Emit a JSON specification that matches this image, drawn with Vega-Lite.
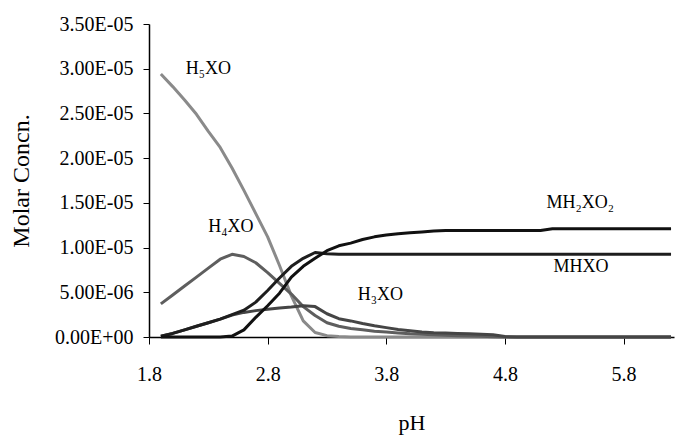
{
  "$schema": "https://vega.github.io/schema/vega-lite/v6.json",
  "autosize": {"type": "none"},
  "width": 525,
  "height": 313,
  "padding": {"left": 149, "top": 24, "right": 3, "bottom": 98},
  "background": "white",
  "config": {
    "view": {"stroke": null},
    "font": "Liberation Serif",
    "axis": {"grid": false, "domainColor": "#000", "tickColor": "#000", "labelColor": "#000", "titleColor": "#000", "titleFontWeight": "normal", "labelFont": "Liberation Serif", "titleFont": "Liberation Serif", "domainWidth": 1.5, "tickWidth": 1}
  },
  "datasets": {
    "curves": [
      {"pH": 1.9, "H5XO": 2.94e-5, "H4XO": 3.7e-6, "H3XO": 1e-7, "MHXO": 1e-7, "MH2XO2": 0},
      {"pH": 2.0, "H5XO": 2.80e-5, "H4XO": 4.7e-6, "H3XO": 4e-7, "MHXO": 4e-7, "MH2XO2": 0},
      {"pH": 2.1, "H5XO": 2.65e-5, "H4XO": 5.7e-6, "H3XO": 8e-7, "MHXO": 8e-7, "MH2XO2": 0},
      {"pH": 2.2, "H5XO": 2.49e-5, "H4XO": 6.7e-6, "H3XO": 1.2e-6, "MHXO": 1.2e-6, "MH2XO2": 0},
      {"pH": 2.3, "H5XO": 2.30e-5, "H4XO": 7.7e-6, "H3XO": 1.6e-6, "MHXO": 1.6e-6, "MH2XO2": 0},
      {"pH": 2.4, "H5XO": 2.12e-5, "H4XO": 8.7e-6, "H3XO": 2.0e-6, "MHXO": 2.0e-6, "MH2XO2": 0},
      {"pH": 2.5, "H5XO": 1.89e-5, "H4XO": 9.25e-6, "H3XO": 2.45e-6, "MHXO": 2.5e-6, "MH2XO2": 1e-7},
      {"pH": 2.6, "H5XO": 1.64e-5, "H4XO": 9.0e-6, "H3XO": 2.75e-6, "MHXO": 3.0e-6, "MH2XO2": 8e-7},
      {"pH": 2.7, "H5XO": 1.38e-5, "H4XO": 8.3e-6, "H3XO": 2.95e-6, "MHXO": 3.9e-6, "MH2XO2": 2.2e-6},
      {"pH": 2.8, "H5XO": 1.12e-5, "H4XO": 7.2e-6, "H3XO": 3.1e-6, "MHXO": 5.2e-6, "MH2XO2": 3.5e-6},
      {"pH": 2.9, "H5XO": 8.0e-6, "H4XO": 6.0e-6, "H3XO": 3.25e-6, "MHXO": 6.6e-6, "MH2XO2": 4.9e-6},
      {"pH": 3.0, "H5XO": 4.6e-6, "H4XO": 4.8e-6, "H3XO": 3.35e-6, "MHXO": 7.9e-6, "MH2XO2": 6.7e-6},
      {"pH": 3.1, "H5XO": 1.8e-6, "H4XO": 3.4e-6, "H3XO": 3.5e-6, "MHXO": 8.8e-6, "MH2XO2": 7.9e-6},
      {"pH": 3.2, "H5XO": 5e-7, "H4XO": 2.4e-6, "H3XO": 3.4e-6, "MHXO": 9.45e-6, "MH2XO2": 8.8e-6},
      {"pH": 3.3, "H5XO": 1.5e-7, "H4XO": 1.6e-6, "H3XO": 2.6e-6, "MHXO": 9.3e-6, "MH2XO2": 9.65e-6},
      {"pH": 3.4, "H5XO": 5e-8, "H4XO": 1.2e-6, "H3XO": 2.05e-6, "MHXO": 9.25e-6, "MH2XO2": 1.02e-5},
      {"pH": 3.5, "H5XO": 0, "H4XO": 9.5e-7, "H3XO": 1.8e-6, "MHXO": 9.25e-6, "MH2XO2": 1.05e-5},
      {"pH": 3.6, "H5XO": 0, "H4XO": 8e-7, "H3XO": 1.5e-6, "MHXO": 9.25e-6, "MH2XO2": 1.09e-5},
      {"pH": 3.7, "H5XO": 0, "H4XO": 6.5e-7, "H3XO": 1.25e-6, "MHXO": 9.25e-6, "MH2XO2": 1.12e-5},
      {"pH": 3.8, "H5XO": 0, "H4XO": 5.5e-7, "H3XO": 1.05e-6, "MHXO": 9.25e-6, "MH2XO2": 1.14e-5},
      {"pH": 3.9, "H5XO": 0, "H4XO": 4.5e-7, "H3XO": 8.5e-7, "MHXO": 9.25e-6, "MH2XO2": 1.155e-5},
      {"pH": 4.0, "H5XO": 0, "H4XO": 3.5e-7, "H3XO": 7e-7, "MHXO": 9.25e-6, "MH2XO2": 1.165e-5},
      {"pH": 4.1, "H5XO": 0, "H4XO": 3e-7, "H3XO": 5.5e-7, "MHXO": 9.25e-6, "MH2XO2": 1.175e-5},
      {"pH": 4.2, "H5XO": 0, "H4XO": 2.5e-7, "H3XO": 4.8e-7, "MHXO": 9.25e-6, "MH2XO2": 1.185e-5},
      {"pH": 4.3, "H5XO": 0, "H4XO": 2e-7, "H3XO": 4.4e-7, "MHXO": 9.25e-6, "MH2XO2": 1.19e-5},
      {"pH": 4.4, "H5XO": 0, "H4XO": 1.5e-7, "H3XO": 4e-7, "MHXO": 9.25e-6, "MH2XO2": 1.19e-5},
      {"pH": 4.5, "H5XO": 0, "H4XO": 1e-7, "H3XO": 3.7e-7, "MHXO": 9.25e-6, "MH2XO2": 1.19e-5},
      {"pH": 4.6, "H5XO": 0, "H4XO": 7e-8, "H3XO": 3.2e-7, "MHXO": 9.25e-6, "MH2XO2": 1.19e-5},
      {"pH": 4.7, "H5XO": 0, "H4XO": 4e-8, "H3XO": 2.5e-7, "MHXO": 9.25e-6, "MH2XO2": 1.19e-5},
      {"pH": 4.8, "H5XO": 0, "H4XO": 0, "H3XO": 5e-8, "MHXO": 9.25e-6, "MH2XO2": 1.19e-5},
      {"pH": 4.9, "H5XO": 0, "H4XO": 0, "H3XO": 0, "MHXO": 9.25e-6, "MH2XO2": 1.19e-5},
      {"pH": 5.0, "H5XO": 0, "H4XO": 0, "H3XO": 0, "MHXO": 9.25e-6, "MH2XO2": 1.19e-5},
      {"pH": 5.1, "H5XO": 0, "H4XO": 0, "H3XO": 0, "MHXO": 9.25e-6, "MH2XO2": 1.19e-5},
      {"pH": 5.2, "H5XO": 0, "H4XO": 0, "H3XO": 0, "MHXO": 9.25e-6, "MH2XO2": 1.21e-5},
      {"pH": 5.3, "H5XO": 0, "H4XO": 0, "H3XO": 0, "MHXO": 9.25e-6, "MH2XO2": 1.21e-5},
      {"pH": 5.4, "H5XO": 0, "H4XO": 0, "H3XO": 0, "MHXO": 9.25e-6, "MH2XO2": 1.21e-5},
      {"pH": 5.5, "H5XO": 0, "H4XO": 0, "H3XO": 0, "MHXO": 9.25e-6, "MH2XO2": 1.21e-5},
      {"pH": 5.6, "H5XO": 0, "H4XO": 0, "H3XO": 0, "MHXO": 9.25e-6, "MH2XO2": 1.21e-5},
      {"pH": 5.7, "H5XO": 0, "H4XO": 0, "H3XO": 0, "MHXO": 9.25e-6, "MH2XO2": 1.21e-5},
      {"pH": 5.8, "H5XO": 0, "H4XO": 0, "H3XO": 0, "MHXO": 9.25e-6, "MH2XO2": 1.21e-5},
      {"pH": 5.9, "H5XO": 0, "H4XO": 0, "H3XO": 0, "MHXO": 9.25e-6, "MH2XO2": 1.21e-5},
      {"pH": 6.0, "H5XO": 0, "H4XO": 0, "H3XO": 0, "MHXO": 9.25e-6, "MH2XO2": 1.21e-5},
      {"pH": 6.1, "H5XO": 0, "H4XO": 0, "H3XO": 0, "MHXO": 9.25e-6, "MH2XO2": 1.21e-5},
      {"pH": 6.2, "H5XO": 0, "H4XO": 0, "H3XO": 0, "MHXO": 9.25e-6, "MH2XO2": 1.21e-5}
    ],
    "labels": [
      {"label": "H₅XO", "pH": 2.11, "value": 3.0e-5},
      {"label": "H₄XO", "pH": 2.30, "value": 1.226e-5},
      {"label": "H₃XO", "pH": 3.56, "value": 4.73e-6},
      {"label": "MH₂XO₂", "pH": 5.15, "value": 1.5e-5},
      {"label": "MHXO", "pH": 5.21, "value": 7.83e-6}
    ]
  },
  "layer": [
    {
      "data": {"name": "curves"},
      "transform": [{"fold": ["H5XO", "H4XO", "H3XO", "MHXO", "MH2XO2"], "as": ["series", "value"]}],
      "mark": {"type": "line", "strokeWidth": 3, "strokeJoin": "round"},
      "encoding": {
        "x": {"field": "pH", "type": "quantitative", "scale": {"domain": [1.8, 6.225], "nice": false, "zero": false},
              "axis": {"values": [1.8, 2.8, 3.8, 4.8, 5.8], "format": ".1f", "title": "pH", "labelFont": "Liberation Serif", "titleFont": "Liberation Serif", "labelFontSize": 20, "titleFontSize": 22, "tickSize": 7, "labelPadding": 20, "titlePadding": 28, "labelFlush": false}},
        "y": {"field": "value", "type": "quantitative", "scale": {"domain": [0, 3.5e-5], "nice": false},
              "axis": {"values": [0, 5e-6, 1e-5, 1.5e-5, 2e-5, 2.5e-5, 3e-5, 3.5e-5], "labelExpr": "replace(replace(upper(format(datum.value, '.2e')), 'E-', 'E-0'), 'E+', 'E+0')", "title": "Molar Concn.", "labelFont": "Liberation Serif", "titleFont": "Liberation Serif", "labelFontSize": 20, "titleFontSize": 24, "tickSize": 6, "labelPadding": 10, "titlePadding": 21, "labelFlush": false}},
        "color": {"field": "series", "type": "nominal", "legend": null,
                  "scale": {"domain": ["H5XO", "H4XO", "H3XO", "MHXO", "MH2XO2"], "range": ["#8a8a8a", "#5e5e5e", "#454545", "#1e1e1e", "#111111"]}},
        "order": {"field": "series"}
      }
    },
    {
      "data": {"name": "labels"},
      "mark": {"type": "text", "align": "left", "baseline": "middle", "font": "Liberation Serif", "fontSize": 18, "color": "#000"},
      "encoding": {
        "x": {"field": "pH", "type": "quantitative"},
        "y": {"field": "value", "type": "quantitative"},
        "text": {"field": "label"}
      }
    }
  ]
}
